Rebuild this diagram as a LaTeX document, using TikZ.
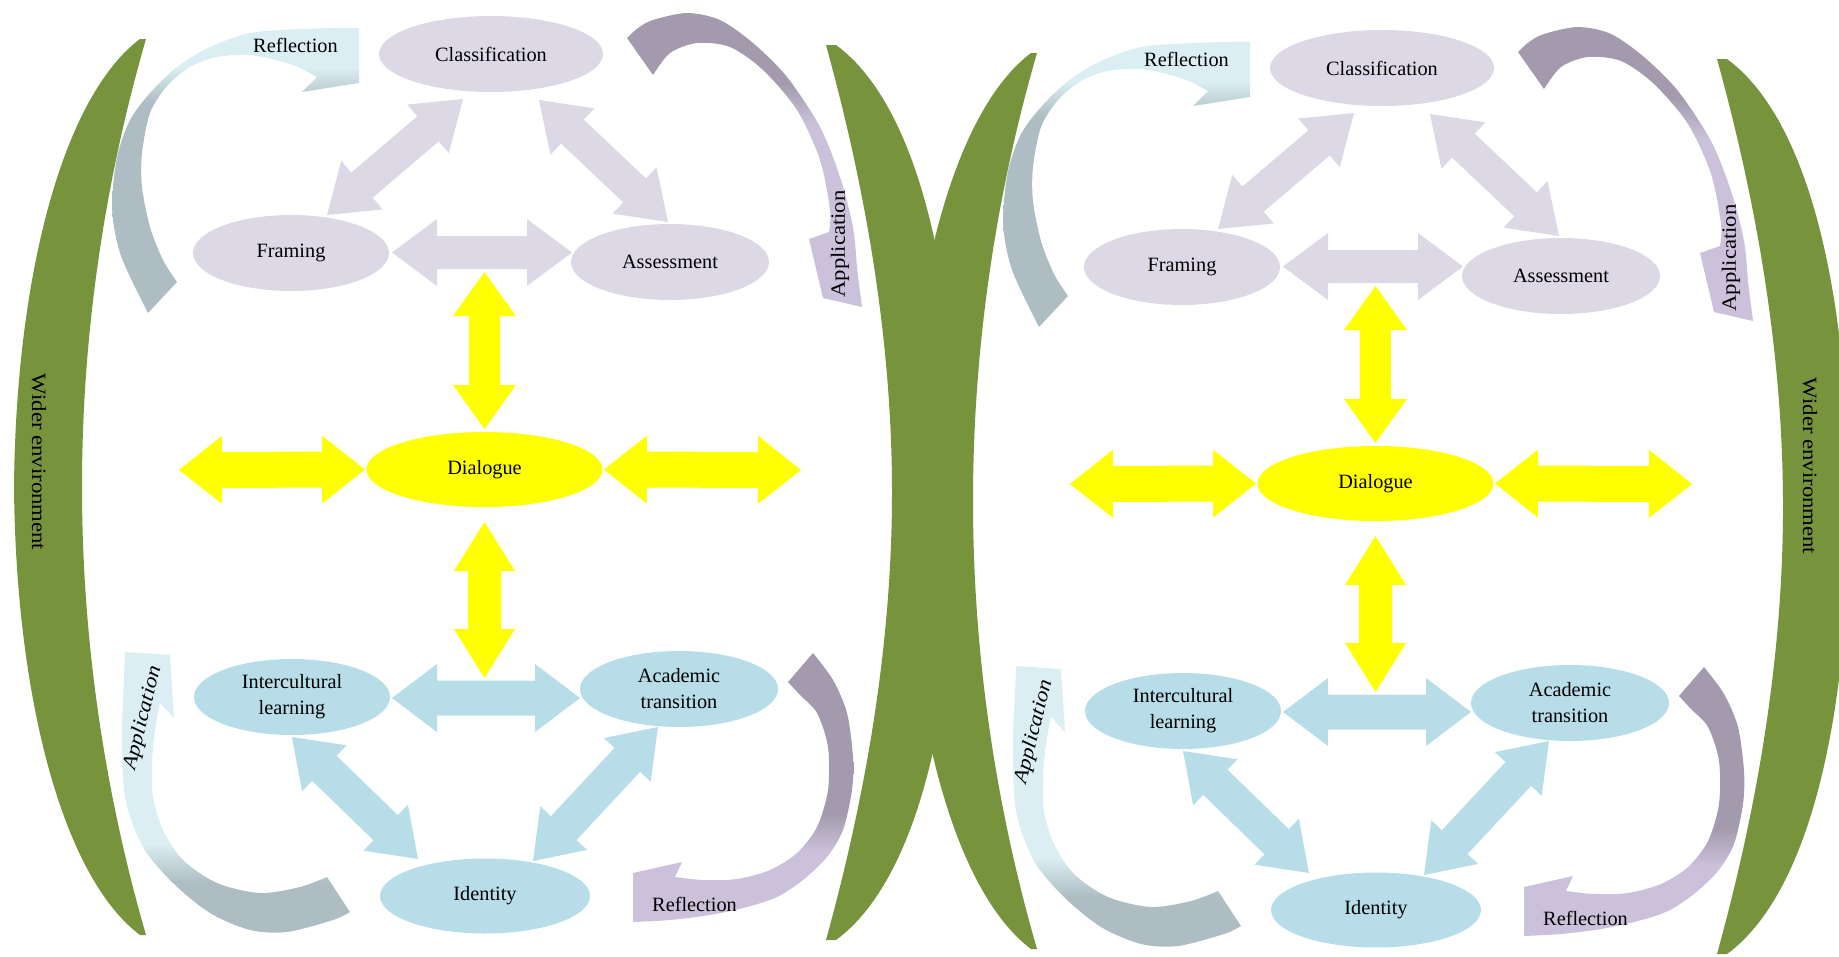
\documentclass[tikz,border=0pt]{standalone}
\usepackage{fontspec}
\setmainfont{Liberation Serif}
\newfontfamily\widefont[FakeStretch=1.12]{Liberation Serif}
\usetikzlibrary{calc,shapes.geometric}

\definecolor{leaf}{HTML}{77933C}
\definecolor{lav}{HTML}{DDD8E6}
\definecolor{aqua}{HTML}{B7DDE8}
\definecolor{sun}{HTML}{FFFF00}
\definecolor{paleblue}{HTML}{DAEEF3}
\definecolor{greyblue}{HTML}{AEBDC3}
\definecolor{mauve}{HTML}{A39BAD}
\definecolor{lilac}{HTML}{CBC1DA}

% two-tone fills of the curved arrows (bottom -> top)
\pgfdeclareverticalshading{reflup}{100bp}{color(0bp)=(greyblue); color(62bp)=(greyblue); color(68bp)=(paleblue); color(100bp)=(paleblue)}
\pgfdeclareverticalshading{appdown}{100bp}{color(0bp)=(lilac); color(56bp)=(lilac); color(63bp)=(mauve); color(100bp)=(mauve)}
\pgfdeclareverticalshading{appup}{100bp}{color(0bp)=(greyblue); color(34bp)=(greyblue); color(41bp)=(paleblue); color(100bp)=(paleblue)}
\pgfdeclareverticalshading{refldown}{100bp}{color(0bp)=(lilac); color(38bp)=(lilac); color(45bp)=(mauve); color(100bp)=(mauve)}

\tikzset{
  bubble/.style={ellipse, inner sep=0pt, draw=none, align=center,
    font=\fontsize{20.3}{26}\selectfont},
  lavbubble/.style={bubble, fill=lav},
  aquabubble/.style={bubble, fill=aqua},
  sunbubble/.style={bubble, fill=sun},
  tag/.style={font=\fontsize{20.3}{25}\selectfont, inner sep=0pt},
  widetag/.style={font=\widefont\fontsize{20.3}{25}\selectfont, inner sep=0pt},
  slanttag/.style={font=\widefont\itshape\fontsize{20.3}{25}\selectfont, inner sep=0pt},
}

% block double arrow: #1 fill, #2 and #3 tip coordinates,
% #4 shaft half width, #5 head half width, #6 head length
\newcommand\dblarrow[6]{%
  \fill[#1] (#2)
    -- ($(#2)!#6!(#3)!#5!90:(#3)$)
    -- ($(#2)!#6!(#3)!#4!90:(#3)$)
    -- ($(#3)!#6!(#2)!#4!-90:(#2)$)
    -- ($(#3)!#6!(#2)!#5!-90:(#2)$)
    -- (#3)
    -- ($(#3)!#6!(#2)!#5!90:(#2)$)
    -- ($(#3)!#6!(#2)!#4!90:(#2)$)
    -- ($(#2)!#6!(#3)!#4!-90:(#3)$)
    -- ($(#2)!#6!(#3)!#5!-90:(#3)$)
    -- cycle;}

% one complete model; #1 is the name prefix
\newcommand\modelpanel[1]{%
  % green side bands
  \fill[leaf] (140,39) .. controls (64,96) and (16,272) .. (14,487)
     .. controls (16,702) and (64,878) .. (140,935) -- (146,935)
     .. controls (104,790) and (82,638) .. (82,487)
     .. controls (82,336) and (104,184) .. (146,39) -- cycle;
  \fill[leaf] (836,45) .. controls (918,105) and (958,280) .. (958,492.5)
     .. controls (958,705) and (918,880) .. (836,940) -- (826,940)
     .. controls (866,795) and (892,644) .. (892,492.5)
     .. controls (892,341) and (866,190) .. (826,45) -- cycle;
  % curved arrows
  \shade[shading=reflup] plot[smooth] coordinates {(148,313) (133,283) (120,253) (113,220) (113,187) (118,153) (130,120) (150,93) (177,67) (210,47) (250,33) (300,29) (340,28) (359,28)}
     -- (359,83) -- (302,92)
     -- plot[smooth] coordinates {(317,77) (300,68) (283,62) (250,55) (217,57) (190,67) (167,86) (150,113) (142,153) (142,187) (150,227) (163,260) (177,282)} -- cycle;
  \shade[shading=appdown] plot[smooth] coordinates {(627,38) (638,28) (653,20) (687,13) (720,20) (753,43) (787,77) (820,127) (840,177) (853,227) (857,268)}
     -- (862,307) -- (823,298) -- (809,239)
     -- plot[smooth] coordinates {(829,232) (830,210) (820,160) (797,110) (763,70) (730,47) (697,43) (670,53) (653,75)} -- cycle;
  \shade[shading=appup] plot[smooth] coordinates {(350,912) (333,920) (287,932) (250,930) (210,913) (173,883) (143,847) (125,797) (122,730) (124,680) (125,652)}
     -- (170,655) -- (174,718)
     -- plot[smooth] coordinates {(160,703) (155,730) (152,763) (153,797) (163,830) (183,860) (217,883) (260,893) (300,887) (327,877)} -- cycle;
  \shade[shading=refldown] plot[smooth] coordinates {(813,653) (833,680) (847,713) (853,757) (852,790) (843,830) (827,857) (803,880) (777,897) (747,907) (710,915) (670,920) (633,922)}
     -- (633,873) -- (682,862)
     -- plot[smooth] coordinates {(675,877) (703,880) (737,879) (770,870) (797,853) (817,827) (828,790) (828,747) (817,713) (800,695) (788,682)} -- cycle;
  \node[tag, anchor=base] (#1refa) at (295.5,52) {Reflection};
  \node[tag, anchor=base] (#1refb) at (694.5,911.5) {Reflection};
  \node[widetag, rotate=90] (#1appa) at (840,244) {Application};
  \node[slanttag, rotate=76] (#1appb) at (143,718) {Application};
  % concepts
  \node[lavbubble, minimum width=224pt, minimum height=76pt] (#1cls) at (491,54) {Classification};
  \node[lavbubble, minimum width=196pt, minimum height=76pt] (#1frm) at (291,253) {Framing};
  \node[lavbubble, minimum width=198pt, minimum height=76pt] (#1ass) at (670,262) {Assessment};
  \node[sunbubble, minimum width=236pt, minimum height=75pt] (#1dlg) at (484.5,469.5) {Dialogue};
  \node[aquabubble, minimum width=196pt, minimum height=76pt] (#1int) at (292,697) {Intercultural\\learning};
  \node[aquabubble, minimum width=198pt, minimum height=76pt] (#1aca) at (679,689) {Academic\\transition};
  \node[aquabubble, minimum width=210pt, minimum height=75pt] (#1idn) at (485,896) {Identity};
  % arrow ends
  \coordinate (#1fa1) at ($(#1frm)+(101,-0.5)$);
  \coordinate (#1fa2) at ($(#1ass)+(-98,-9.5)$);
  \coordinate (#1cf1) at ($(#1cls)+(-28,45)$);
  \coordinate (#1cf2) at ($(#1frm)+(36,-38)$);
  \coordinate (#1ca1) at ($(#1cls)+(48,46)$);
  \coordinate (#1ca2) at ($(#1ass)+(-2,-40)$);
  \coordinate (#1ia1) at ($(#1int)+(100,1)$);
  \coordinate (#1ia2) at ($(#1aca)+(-99,9)$);
  \coordinate (#1ii1) at ($(#1int)+(0,40)$);
  \coordinate (#1ii2) at ($(#1idn)+(-67,-37)$);
  \coordinate (#1ai1) at ($(#1idn)+(48,-35)$);
  \coordinate (#1ai2) at ($(#1aca)+(-21,38)$);
  \coordinate (#1up1) at ($(#1dlg)+(0,-40.5)$);
  \coordinate (#1up2) at ($(#1dlg)+(0,-197.5)$);
  \coordinate (#1dn1) at ($(#1dlg)+(0,52.5)$);
  \coordinate (#1dn2) at ($(#1dlg)+(0,208.5)$);
  \coordinate (#1lf1) at ($(#1dlg)+(-119.5,0)$);
  \coordinate (#1lf2) at ($(#1dlg)+(-305.5,0.5)$);
  \coordinate (#1rt1) at ($(#1dlg)+(119.5,0)$);
  \coordinate (#1rt2) at ($(#1dlg)+(316.5,0.5)$);
  % block arrows
  \dblarrow{lav}{#1fa1}{#1fa2}{16.5pt}{33.5pt}{45pt}
  \dblarrow{lav}{#1cf1}{#1cf2}{16.5pt}{32pt}{46pt}
  \dblarrow{lav}{#1ca1}{#1ca2}{16.5pt}{32pt}{46pt}
  \dblarrow{aqua}{#1ia1}{#1ia2}{17.5pt}{34pt}{45pt}
  \dblarrow{aqua}{#1ii1}{#1ii2}{17.5pt}{32pt}{45pt}
  \dblarrow{aqua}{#1ai1}{#1ai2}{17.5pt}{32pt}{45pt}
  \dblarrow{sun}{#1up1}{#1up2}{15.5pt}{31.5pt}{44pt}
  \dblarrow{sun}{#1dn1}{#1dn2}{16.5pt}{30.5pt}{49pt}
  \dblarrow{sun}{#1lf1}{#1lf2}{18pt}{34pt}{43pt}
  \dblarrow{sun}{#1rt1}{#1rt2}{18pt}{34pt}{43pt}
}

\begin{document}
\begin{tikzpicture}[x=1pt,y=-1pt]
\useasboundingbox (0,0) rectangle (1839,956);
\clip (0,0) rectangle (1839,956);
\begin{scope}[shift={(891,14)}]
  \modelpanel{R-}
\end{scope}
\modelpanel{L-}
\node[widetag, rotate=-90] (L-wider) at (39,462) {Wider environment};
\node[widetag, rotate=-90] (R-wider) at (1810,466) {Wider environment};
\end{tikzpicture}
\end{document}
